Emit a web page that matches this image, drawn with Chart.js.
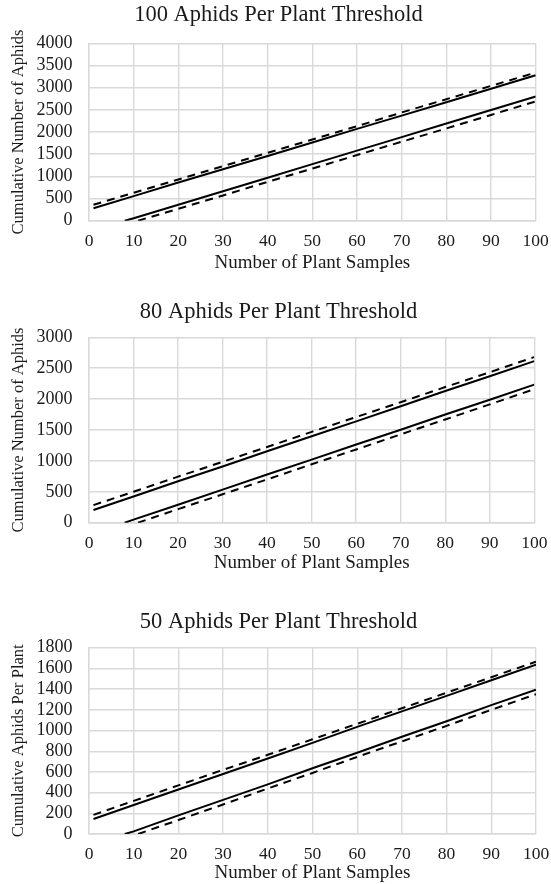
<!DOCTYPE html>
<html>
<head>
<meta charset="utf-8">
<script src="https://cdn.jsdelivr.net/npm/chart.js@4.4.1/dist/chart.umd.min.js"></script>
<style>
html, body { margin: 0; padding: 0; background: #fff; overflow: hidden; }
canvas { position: absolute; left: 0; }
</style>
</head>
<body>
<canvas id="chart100" width="551" height="274" style="top:0px"></canvas>
<canvas id="chart80" width="551" height="277" style="top:297px"></canvas>
<canvas id="chart50" width="551" height="277" style="top:607px"></canvas>
<script>
// 100 aphids per plant
const t100UpperSolidX = [1, 10, 20, 30, 40, 50, 60, 70, 80, 90, 100];
const t100UpperSolidY = [280, 555, 860, 1160, 1460, 1765, 2070, 2370, 2670, 2975, 3280];
const t100UpperDashX = [1, 10, 20, 30, 40, 50, 60, 70, 80, 90, 100];
const t100UpperDashY = [360, 630, 930, 1230, 1530, 1830, 2130, 2440, 2740, 3040, 3340];
const t100LowerSolidX = [8, 10, 20, 30, 40, 50, 60, 70, 80, 90, 100];
const t100LowerSolidY = [0, 55, 360, 665, 970, 1275, 1580, 1885, 2190, 2495, 2800];
const t100LowerDashX = [11, 20, 30, 40, 50, 60, 70, 80, 90, 100];
const t100LowerDashY = [0, 270, 570, 875, 1175, 1480, 1780, 2080, 2385, 2690];

// 80 aphids per plant
const t80UpperSolidX = [1, 10, 20, 30, 40, 50, 60, 70, 80, 90, 100];
const t80UpperSolidY = [205, 425, 670, 910, 1155, 1400, 1640, 1885, 2130, 2370, 2615];
const t80UpperDashX = [1, 10, 20, 30, 40, 50, 60, 70, 80, 90, 100];
const t80UpperDashY = [285, 500, 745, 985, 1225, 1470, 1710, 1950, 2195, 2435, 2680];
const t80LowerSolidX = [8, 10, 20, 30, 40, 50, 60, 70, 80, 90, 100];
const t80LowerSolidY = [0, 50, 290, 535, 780, 1020, 1265, 1505, 1750, 1990, 2235];
const t80LowerDashX = [11, 20, 30, 40, 50, 60, 70, 80, 90, 100];
const t80LowerDashY = [0, 220, 460, 700, 945, 1185, 1430, 1670, 1915, 2160];

// 50 aphids per plant
const t50UpperSolidX = [1, 10, 20, 30, 40, 50, 60, 70, 80, 90, 100];
const t50UpperSolidY = [145, 280, 430, 580, 730, 880, 1035, 1185, 1335, 1485, 1635];
const t50UpperDashX = [1, 10, 20, 30, 40, 50, 60, 70, 80, 90, 100];
const t50UpperDashY = [185, 320, 470, 620, 765, 915, 1065, 1215, 1365, 1515, 1665];
const t50LowerSolidX = [8, 10, 20, 30, 40, 50, 60, 70, 80, 90, 100];
const t50LowerSolidY = [0, 25, 180, 330, 480, 635, 785, 940, 1090, 1245, 1395];
const t50LowerDashX = [11, 20, 30, 40, 50, 60, 70, 80, 90, 100];
const t50LowerDashY = [0, 135, 285, 440, 590, 745, 895, 1045, 1200, 1350];

const FONT = "'Liberation Serif', 'Times New Roman', serif";
const TEXT = "#1a1a1a";
const GRID = "#d9d9d9";
const PLOT_LEFT = 89;

function points(xs, ys) {
    return xs.map((x, i) => ({ x: x, y: ys[i] }));
}

function line(xs, ys, dashed) {
    return {
        data: points(xs, ys),
        borderColor: "#000",
        borderWidth: 2,
        borderDash: dashed ? [8, 6] : [],
        pointRadius: 0,
        tension: 0,
        fill: false
    };
}

function makeChart(id, cfg) {
    const canvas = document.getElementById(id);
    const h = canvas.height;
    return new Chart(canvas, {
        type: "line",
        data: {
            datasets: [
                line(cfg.upperSolid[0], cfg.upperSolid[1], false),
                line(cfg.upperDash[0], cfg.upperDash[1], true),
                line(cfg.lowerSolid[0], cfg.lowerSolid[1], false),
                line(cfg.lowerDash[0], cfg.lowerDash[1], true)
            ]
        },
        options: {
            responsive: false,
            animation: false,
            layout: { padding: { left: 6, right: 0, top: 0, bottom: 0 } },
            plugins: {
                legend: { display: false },
                tooltip: { enabled: false },
                title: {
                    display: true,
                    text: cfg.title,
                    color: TEXT,
                    font: { family: FONT, size: 22.5, weight: "normal", lineHeight: 1.2 },
                    padding: { top: 1.5, bottom: cfg.plotTop - 28.5 }
                }
            },
            scales: {
                x: {
                    type: "linear",
                    min: 0,
                    max: 100,
                    ticks: {
                        stepSize: 10,
                        autoSkip: false,
                        maxRotation: 0,
                        color: TEXT,
                        padding: 0,
                        font: { family: FONT, size: 17.5 },
                        callback: (v) => String(v)
                    },
                    // invisible tick marks only push the labels down
                    grid: { color: GRID, lineWidth: 1.4, drawTicks: true, tickLength: 10, tickColor: "rgba(0,0,0,0)" },
                    border: { color: GRID, width: 1.4 },
                    title: {
                        display: true,
                        text: "Number of Plant Samples",
                        color: TEXT,
                        font: { family: FONT, size: 19, lineHeight: 1.2 },
                        padding: { top: 0, bottom: 0 }
                    },
                    afterFit: (scale) => { scale.height = h - cfg.plotBottom; }
                },
                y: {
                    min: 0,
                    max: cfg.yMax,
                    ticks: {
                        stepSize: cfg.yStep,
                        autoSkip: false,
                        color: TEXT,
                        padding: 16.5,
                        font: { family: FONT, size: 18 },
                        callback: (v) => String(v)
                    },
                    grid: { color: GRID, lineWidth: 1.4, drawTicks: false },
                    border: { color: GRID, width: 1.4 },
                    title: {
                        display: true,
                        text: cfg.yTitle,
                        color: TEXT,
                        font: { family: FONT, size: 16.5, lineHeight: 1.2 },
                        padding: { top: 3, bottom: 0 }
                    },
                    afterFit: (scale) => { scale.width = PLOT_LEFT - 6; }
                },
                yR: {
                    position: "right",
                    display: true,
                    min: 0,
                    max: 1,
                    ticks: { display: false },
                    grid: { display: false },
                    border: { display: false },
                    afterFit: (scale) => { scale.width = cfg.rightGap; }
                }
            }
        }
    });
}

makeChart("chart100", {
    title: "100 Aphids Per Plant Threshold",
    yTitle: "Cumulative Number of Aphids",
    yMax: 4000, yStep: 500,
    plotTop: 43.3, plotBottom: 220.7, rightGap: 15.3,
    upperSolid: [t100UpperSolidX, t100UpperSolidY],
    upperDash: [t100UpperDashX, t100UpperDashY],
    lowerSolid: [t100LowerSolidX, t100LowerSolidY],
    lowerDash: [t100LowerDashX, t100LowerDashY]
});

makeChart("chart80", {
    title: "80 Aphids Per Plant Threshold",
    yTitle: "Cumulative Number of Aphids",
    yMax: 3000, yStep: 500,
    plotTop: 40.3, plotBottom: 225.7, rightGap: 16.7,
    upperSolid: [t80UpperSolidX, t80UpperSolidY],
    upperDash: [t80UpperDashX, t80UpperDashY],
    lowerSolid: [t80LowerSolidX, t80LowerSolidY],
    lowerDash: [t80LowerDashX, t80LowerDashY]
});

makeChart("chart50", {
    title: "50 Aphids Per Plant Threshold",
    yTitle: "Cumulative Aphids Per Plant",
    yMax: 1800, yStep: 200,
    plotTop: 40.7, plotBottom: 227, rightGap: 15,
    upperSolid: [t50UpperSolidX, t50UpperSolidY],
    upperDash: [t50UpperDashX, t50UpperDashY],
    lowerSolid: [t50LowerSolidX, t50LowerSolidY],
    lowerDash: [t50LowerDashX, t50LowerDashY]
});
</script>
</body>
</html>
